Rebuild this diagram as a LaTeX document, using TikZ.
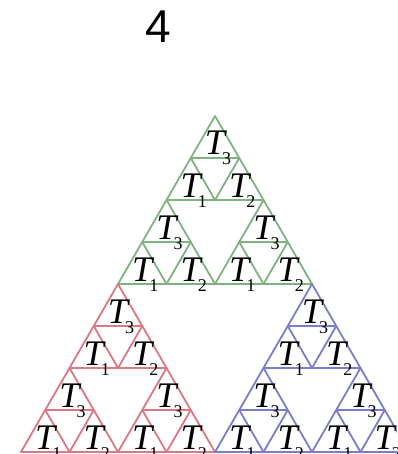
\documentclass[tikz,border=0pt]{standalone}
\usepackage{fontspec}
\setmainfont{Liberation Serif}
\newfontfamily\numfont{Liberation Sans}
\definecolor{sgreen}{RGB}{128, 178, 128}
\definecolor{sred}{RGB}{218, 120, 132}
\definecolor{sblue}{RGB}{124, 124, 204}
\newcommand{\tlab}[1]{T\rlap{\kern-3pt\raisebox{-10pt}{\fontsize{18}{18}\selectfont\upshape #1}}}

\begin{document}
\begin{tikzpicture}[
    x=1pt, y=-1pt,
    edge/.style={line width=1.8pt, line join=round},
    lab/.style={font=\fontsize{36}{36}\selectfont\itshape, inner sep=0pt, anchor=base},
    title/.style={font=\fontsize{46}{46}\numfont, inner sep=0pt}
]
  \clip (0,0) rectangle (397,454);

  % title
  \node[title] (num) at (158, 27) {4};

  % three coloured parts, each split twice
  \foreach \ax/\ay/\col/\i in {215/116/sgreen/a, 118/284/sred/b, 312/284/sblue/c} {
    \foreach \dx/\dy/\j in {0/0/3, -48.5/84/1, 48.5/84/2} {
      \foreach \ex/\ey/\k in {0/0/3, -24.25/42/1, 24.25/42/2} {
        \draw[edge, \col] (\ax+\dx+\ex, \ay+\dy+\ey) -- ++(-24.25, 42) -- ++(48.5, 0) -- cycle;
        \node[lab] (t-\i\j\k) at (\ax+\dx+\ex, \ay+\dy+\ey+39) {\tlab{\k}};
      }
    }
  }
\end{tikzpicture}
\end{document}
